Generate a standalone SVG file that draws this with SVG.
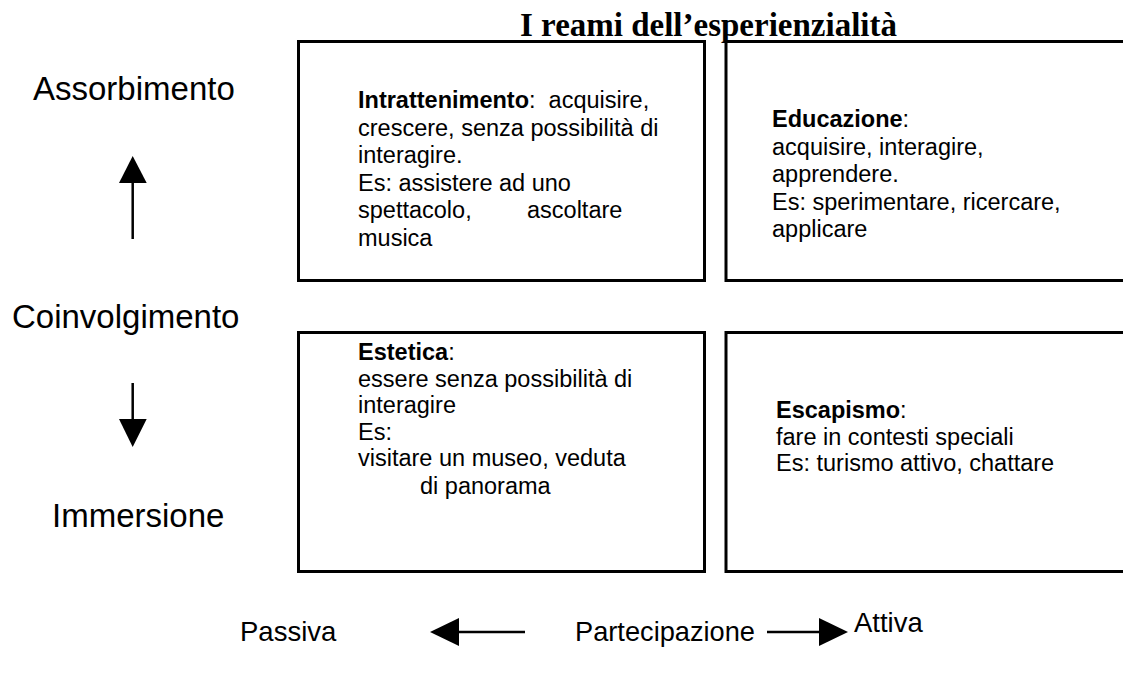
<svg xmlns="http://www.w3.org/2000/svg" width="1123" height="677" viewBox="0 0 1123 677">
<style>
.box{fill:#fff;stroke:#000;stroke-width:3}
.t{font-family:"Liberation Sans",Arial,sans-serif;font-size:23.5px;fill:#000}
.b{font-weight:bold}
.lab{font-family:"Liberation Sans",Arial,sans-serif;font-size:33px;fill:#000}
.bl{font-family:"Liberation Sans",Arial,sans-serif;font-size:27.5px;fill:#000}
.title{font-family:"Liberation Serif","Times New Roman",serif;font-size:33px;font-weight:bold;fill:#000}
.ln{stroke:#000;stroke-width:2.5;fill:none}
</style>
<rect width="1123" height="677" fill="#fff"/>
<text class="title" x="520" y="36">I reami dell’esperienzialità</text>

<g id="labels">
<text class="lab" x="33" y="100">Assorbimento</text>
<text class="lab" x="12" y="328">Coinvolgimento</text>
<text class="lab" x="52" y="527">Immersione</text>
<text class="bl" x="240" y="641">Passiva</text>
<text class="bl" x="575" y="641" textLength="180" lengthAdjust="spacingAndGlyphs">Partecipazione</text>
<text class="bl" x="854" y="632">Attiva</text>
</g>

<g id="intrattenimento">
<rect class="box" x="298.5" y="41.5" width="406" height="239"/>
<text class="t" x="358" y="108" xml:space="preserve"><tspan class="b">Intrattenimento</tspan>:  acquisire,</text>
<text class="t" x="358" y="135.5">crescere, senza possibilità di</text>
<text class="t" x="358" y="163">interagire.</text>
<text class="t" x="358" y="190.5">Es: assistere ad uno</text>
<text class="t" x="358" y="218">spettacolo,<tspan x="527">ascoltare</tspan></text>
<text class="t" x="358" y="245.5">musica</text>
</g>

<g id="educazione">
<rect class="box" x="726" y="41.5" width="410" height="239"/>
<text class="t" x="772" y="127"><tspan class="b">Educazione</tspan>:</text>
<text class="t" x="772" y="154.5">acquisire, interagire,</text>
<text class="t" x="772" y="182">apprendere.</text>
<text class="t" x="772" y="209.5">Es: sperimentare, ricercare,</text>
<text class="t" x="772" y="237">applicare</text>
</g>

<g id="estetica">
<rect class="box" x="298.5" y="332.5" width="406" height="239"/>
<text class="t" x="358" y="360"><tspan class="b">Estetica</tspan>:</text>
<text class="t" x="358" y="386.5">essere senza possibilità di</text>
<text class="t" x="358" y="413">interagire</text>
<text class="t" x="358" y="439.5">Es:</text>
<text class="t" x="358" y="466">visitare un museo, veduta</text>
<text class="t" x="420" y="494">di panorama</text>
</g>

<g id="escapismo">
<rect class="box" x="726" y="332.5" width="410" height="239"/>
<text class="t" x="776" y="418"><tspan class="b">Escapismo</tspan>:</text>
<text class="t" x="776" y="444.5">fare in contesti speciali</text>
<text class="t" x="776" y="471">Es: turismo attivo, chattare</text>
</g>

<g id="connectors">
<line class="ln" x1="132.7" y1="239" x2="132.7" y2="182"/>
<polygon points="132.7,156 119,183 146.7,183"/>
<line class="ln" x1="132.7" y1="383" x2="132.7" y2="420"/>
<polygon points="132.7,447 119,419 146.7,419"/>
<line class="ln" x1="458" y1="632" x2="525" y2="632"/>
<polygon points="430,632 459,618 459,646"/>
<line class="ln" x1="767" y1="632" x2="821" y2="632"/>
<polygon points="848,632 819,618 819,646"/>
</g>
</svg>
